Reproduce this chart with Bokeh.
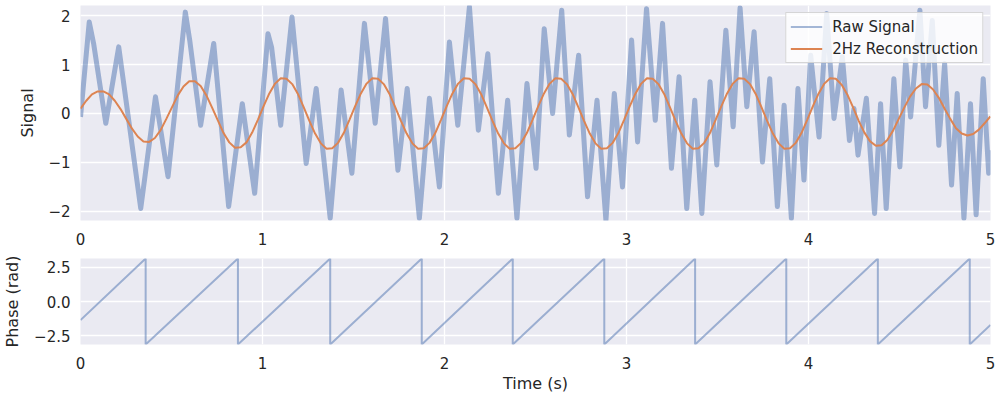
from bokeh.plotting import figure
from bokeh.layouts import column
from bokeh.models import FixedTicker, Range1d, Legend, LegendItem
from bokeh.embed import file_html
from bokeh.resources import INLINE

# ---------------- data ----------------
# Raw signal: extrema / shoulders of the noisy trace (time in s, value)
raw_t = [0.000, 0.048, 0.072, 0.139, 0.210, 0.331, 0.412, 0.481, 0.576, 0.600, 0.660, 0.732, 0.814, 0.889, 0.957,
         1.030, 1.050, 1.100, 1.162, 1.240, 1.295, 1.372, 1.432, 1.491, 1.560, 1.619, 1.676, 1.744, 1.795, 1.862, 1.917, 1.972,
         2.027, 2.073, 2.137, 2.186, 2.238, 2.296, 2.347, 2.398, 2.453, 2.503, 2.548, 2.594, 2.644, 2.686, 2.737, 2.786, 2.838, 2.887, 2.933, 2.978,
         3.028, 3.061, 3.110, 3.158, 3.198, 3.247, 3.289, 3.331, 3.375, 3.414, 3.459, 3.496, 3.546, 3.586, 3.624, 3.661, 3.701, 3.747, 3.787, 3.829, 3.866, 3.906, 3.942, 3.975,
         4.012, 4.058, 4.100, 4.140, 4.186, 4.225, 4.250, 4.272, 4.318, 4.363, 4.396, 4.427, 4.469, 4.502, 4.534, 4.561, 4.612, 4.643, 4.680, 4.716, 4.748, 4.786, 4.817, 4.854, 4.890, 4.921, 4.960, 4.990, 5.000]
raw_v = [-0.07, 1.87, 1.43, -0.20, 1.36, -1.94, 0.34, -1.29, 2.07, 1.50, -0.24, 1.43, -1.90, 0.20, -1.63,
         1.63, 1.35, -0.24, 1.97, -1.02, 0.51, -2.14, 0.48, -1.22, 1.84, -0.20, 1.94, -1.16, 0.51, -2.14, 0.31, -1.50,
         1.46, -0.24, 2.18, -0.34, 1.22, -1.63, 0.27, -2.14, 0.61, -1.12, 1.73, 0.00, 2.11, -0.44, 1.19, -1.70, 0.27, -2.18, 0.41, -1.50,
         1.50, -0.58, 2.14, -0.14, 1.84, -1.12, 0.75, -1.94, 0.27, -2.04, 0.65, -1.05, 1.70, -0.27, 2.16, 0.14, 1.67, -0.99, 0.71, -1.90, 0.17, -2.14, 0.51, -1.36,
         1.19, -0.48, 2.04, -0.10, 1.16, -0.55, 0.10, -0.85, 0.31, -2.04, 0.20, -1.94, 0.71, -1.09, 1.09, -0.07, 2.11, 0.14, 1.90, -0.65, 1.02, -1.46, 0.41, -2.14, 0.20, -2.07, 0.71, -1.22, -0.75]

# 2 Hz reconstruction, read at a regular time step
recon_step = 0.03144
recon_v = [0.10, 0.26, 0.39, 0.45, 0.45, 0.39, 0.26, 0.09, -0.11, -0.31, -0.47, -0.57, -0.58, -0.50, -0.34, -0.11,
           0.13, 0.37, 0.55, 0.66, 0.66, 0.56, 0.37, 0.12, -0.14, -0.40, -0.59, -0.70, -0.69, -0.59, -0.39, -0.13,
           0.15, 0.41, 0.61, 0.72, 0.71, 0.60, 0.40, 0.13, -0.15, -0.41, -0.61, -0.72, -0.71, -0.60, -0.40, -0.13,
           0.15, 0.41, 0.61, 0.72, 0.71, 0.60, 0.40, 0.13, -0.15, -0.41, -0.61, -0.72, -0.71, -0.60, -0.40, -0.13,
           0.15, 0.41, 0.61, 0.72, 0.71, 0.60, 0.40, 0.13, -0.15, -0.41, -0.61, -0.72, -0.71, -0.60, -0.40, -0.13,
           0.15, 0.41, 0.61, 0.72, 0.71, 0.60, 0.40, 0.13, -0.15, -0.41, -0.61, -0.72, -0.71, -0.60, -0.40, -0.13,
           0.15, 0.41, 0.61, 0.72, 0.71, 0.60, 0.40, 0.13, -0.15, -0.41, -0.61, -0.72, -0.71, -0.60, -0.40, -0.13,
           0.15, 0.41, 0.61, 0.72, 0.71, 0.60, 0.40, 0.13, -0.15, -0.41, -0.61, -0.72, -0.71, -0.60, -0.40, -0.13,
           0.15, 0.41, 0.61, 0.72, 0.71, 0.59, 0.39, 0.13, -0.15, -0.39, -0.57, -0.66, -0.65, -0.54, -0.35, -0.11,
           0.13, 0.35, 0.51, 0.60, 0.59, 0.49, 0.32, 0.10, -0.11, -0.30, -0.41, -0.45, -0.42, -0.33, -0.20, -0.06]
recon_t = [round(i * recon_step, 4) for i in range(len(recon_v))]

# Instantaneous phase: wraps from +pi to -pi at these times
phase_wrap_t = [0.358, 0.865, 1.372, 1.875, 2.375, 2.878, 3.377, 3.878, 4.381, 4.886]
phase_start, phase_end = -1.36, -1.71
phase_hi, phase_lo = 3.14, -3.14

x_ticks = [0, 1, 2, 3, 4, 5]
sig_ticks = [-2, -1, 0, 1, 2]
sig_labels = {-2: "\u22122", -1: "\u22121", 0: "0", 1: "1", 2: "2"}
ph_ticks = [-2.5, 0.0, 2.5]
ph_labels = {-2.5: "\u22122.5", 0.0: "0.0", 2.5: "2.5"}

# ---------------- styling ----------------
FONT = "DejaVu Sans"
TEXT = "#262626"
BG = "#eaeaf2"
BLUE = "#4c72b0"
ORANGE = "#dd8452"


def style(p, ylabel_standoff):
    p.background_fill_color = BG
    p.border_fill_color = "white"
    p.outline_line_color = None
    p.min_border_left = 79
    p.min_border_right = 10
    for ax in p.axis:
        ax.axis_line_color = None
        ax.major_tick_line_color = None
        ax.minor_tick_line_color = None
        ax.major_tick_out = 0
        ax.major_tick_in = 0
        ax.major_label_text_font = FONT
        ax.major_label_text_font_size = "15px"
        ax.major_label_text_color = TEXT
        ax.axis_label_text_font = FONT
        ax.axis_label_text_font_size = "16px"
        ax.axis_label_text_font_style = "normal"
        ax.axis_label_text_color = TEXT
    p.xaxis.major_label_standoff = 12
    p.yaxis.major_label_standoff = 10
    p.yaxis.axis_label_standoff = ylabel_standoff
    p.grid.grid_line_color = "white"
    p.grid.grid_line_width = 1.3
    p.xaxis.ticker = FixedTicker(ticks=x_ticks)


top = figure(width=1000, height=250, output_backend="svg", toolbar_location=None,
             x_range=Range1d(0, 5), y_range=Range1d(-2.185, 2.205))
top.min_border_top = 5
top.min_border_bottom = 30
style(top, 8)
top.yaxis.ticker = FixedTicker(ticks=sig_ticks)
top.yaxis.major_label_overrides = sig_labels
top.yaxis.axis_label = "Signal"

top.line(raw_t, raw_v, line_color=BLUE, line_alpha=0.5, line_width=5, line_join="round")
top.line(recon_t, recon_v, line_color=ORANGE, line_width=2)
# legend samples (placed outside the visible x range)
leg_raw = top.line([-1, -0.9], [0, 0], line_color=BLUE, line_alpha=0.5, line_width=2)
leg_rec = top.line([-1, -0.9], [0, 0], line_color=ORANGE, line_width=2)

legend = Legend(items=[LegendItem(label="Raw Signal", renderers=[leg_raw]),
                       LegendItem(label="2Hz Reconstruction", renderers=[leg_rec])],
                location="top_right")
legend.margin = 7
legend.padding = 4
legend.spacing = 3
legend.glyph_width = 32
legend.glyph_height = 19
legend.label_height = 19
legend.label_standoff = 10
legend.label_text_font = FONT
legend.label_text_font_size = "15px"
legend.label_text_color = TEXT
legend.background_fill_color = "white"
legend.background_fill_alpha = 0.8
legend.border_line_color = "#cccccc"
legend.border_line_alpha = 0.8
legend.border_line_width = 1
top.add_layout(legend)

bot = figure(width=1000, height=150, output_backend="svg", toolbar_location=None,
             x_range=Range1d(0, 5), y_range=Range1d(-3.1416, 3.1416))
bot.min_border_top = 8
bot.min_border_bottom = 56
style(bot, 9)
bot.yaxis.ticker = FixedTicker(ticks=ph_ticks)
bot.yaxis.major_label_overrides = ph_labels
bot.yaxis.axis_label = "Phase (rad)"
bot.xaxis.axis_label = "Time (s)"
bot.xaxis.axis_label_standoff = 2

ph_x = [0.0]
ph_y = [phase_start]
for w in phase_wrap_t:
    ph_x += [w, w]
    ph_y += [phase_hi, phase_lo]
ph_x.append(5.0)
ph_y.append(phase_end)
bot.line(ph_x, ph_y, line_color=BLUE, line_alpha=0.5, line_width=2)

layout = column(top, bot, spacing=0)
open("out.html", "w").write(file_html(layout, INLINE))
